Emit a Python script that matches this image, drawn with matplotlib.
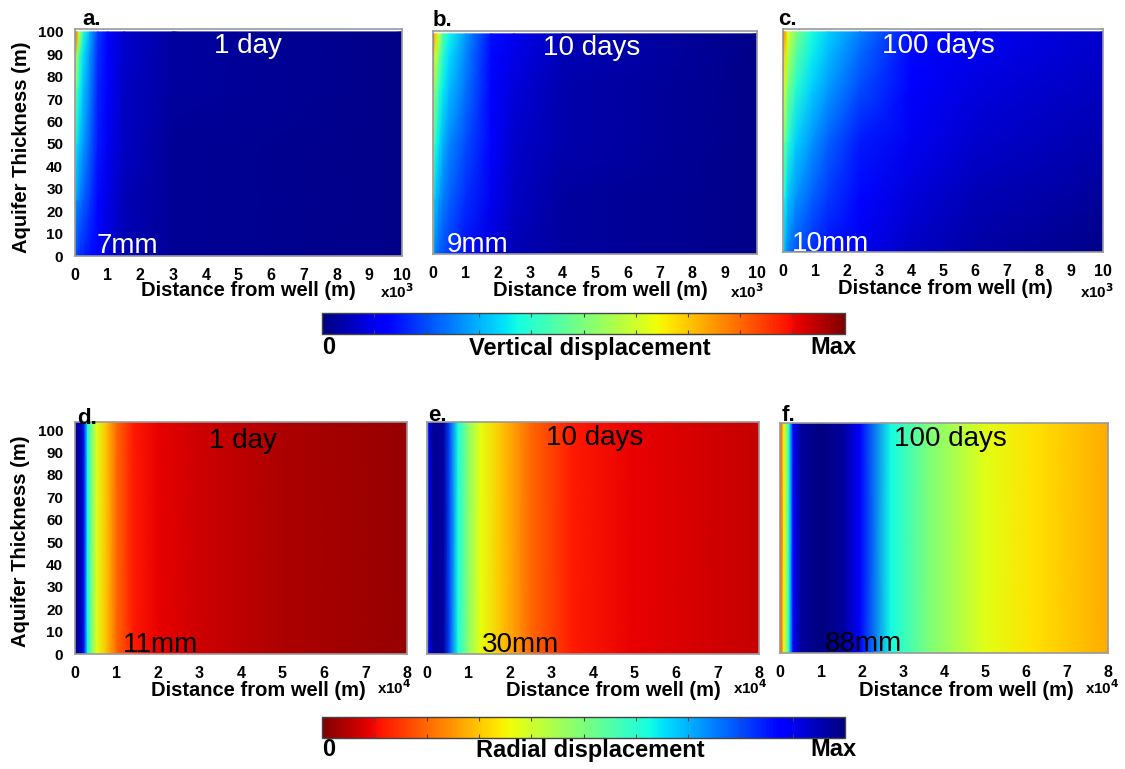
import numpy as np
import matplotlib
matplotlib.use("Agg")
import matplotlib.pyplot as plt
from matplotlib.cm import ScalarMappable
from matplotlib.colors import Normalize

plt.rcParams['font.family'] = ['Liberation Sans', 'DejaVu Sans']

W, H = 1125, 769

# ---------------- data (normalised displacement, 0..1) ----------------
# Vertical displacement panels (rows = depth nodes 0..100 m, cols = distance nodes)
a_x = [0, 60, 120, 250, 450, 700, 1000, 1500, 3000, 10000]
a_y = [0, 25, 50, 75, 90, 100]
a_v = [[0.20, 0.18, 0.17, 0.16, 0.14, 0.11, 0.08, 0.05, 0.02, 0.01],
       [0.30, 0.27, 0.25, 0.22, 0.18, 0.13, 0.09, 0.05, 0.02, 0.01],
       [0.40, 0.35, 0.32, 0.28, 0.22, 0.15, 0.10, 0.06, 0.02, 0.01],
       [0.55, 0.45, 0.38, 0.32, 0.25, 0.16, 0.11, 0.06, 0.03, 0.01],
       [0.72, 0.55, 0.45, 0.35, 0.27, 0.17, 0.12, 0.07, 0.03, 0.01],
       [0.92, 0.75, 0.60, 0.40, 0.30, 0.18, 0.13, 0.07, 0.03, 0.01]]

b_x = [0, 60, 180, 300, 500, 1000, 1800, 2500, 4000, 10000]
b_y = [0, 25, 50, 75, 90, 100]
b_v = [[0.45, 0.25, 0.22, 0.20, 0.18, 0.14, 0.08, 0.05, 0.03, 0.01],
       [0.55, 0.32, 0.28, 0.25, 0.22, 0.17, 0.10, 0.06, 0.03, 0.01],
       [0.62, 0.40, 0.35, 0.30, 0.26, 0.20, 0.11, 0.07, 0.04, 0.01],
       [0.72, 0.50, 0.42, 0.36, 0.31, 0.24, 0.12, 0.08, 0.04, 0.01],
       [0.82, 0.60, 0.50, 0.40, 0.34, 0.26, 0.13, 0.09, 0.05, 0.01],
       [0.92, 0.70, 0.60, 0.45, 0.37, 0.28, 0.14, 0.10, 0.05, 0.01]]

c_x = [0, 50, 150, 400, 900, 1400, 2400, 4000, 6000, 10000]
c_y = [0, 25, 50, 75, 90, 100]
c_v = [[0.38, 0.30, 0.25, 0.21, 0.17, 0.14, 0.10, 0.06, 0.035, 0.01],
       [0.48, 0.38, 0.32, 0.27, 0.22, 0.18, 0.13, 0.08, 0.05, 0.025],
       [0.62, 0.48, 0.40, 0.33, 0.27, 0.22, 0.15, 0.10, 0.07, 0.04],
       [0.75, 0.60, 0.50, 0.40, 0.33, 0.28, 0.20, 0.12, 0.085, 0.055],
       [0.85, 0.68, 0.57, 0.46, 0.36, 0.31, 0.23, 0.13, 0.095, 0.065],
       [0.92, 0.75, 0.62, 0.50, 0.38, 0.33, 0.25, 0.14, 0.10, 0.07]]

# Radial displacement panels (profiles along distance, uniform with depth)
d_x = [0, 150, 1500, 2200, 3000, 4000, 5300, 7500, 10000, 14000, 20000, 30000, 50000, 80000]
d_v = [0.80, 0.97, 0.96, 0.85, 0.63, 0.50, 0.38, 0.30, 0.20, 0.12, 0.09, 0.07, 0.04, 0.02]

e_x = [0, 500, 1500, 4000, 5500, 7500, 10000, 13000, 18000, 25000, 35000, 50000, 80000]
e_v = [0.50, 0.90, 0.98, 0.97, 0.80, 0.62, 0.48, 0.37, 0.30, 0.20, 0.12, 0.09, 0.06]

f_x = [0, 300, 900, 1500, 2200, 3200, 5000, 10000, 15500, 19500, 27000, 36000, 50000, 62000, 80000]
f_v = [0.12, 0.20, 0.34, 0.45, 0.62, 0.87, 0.97, 1.00, 0.97, 0.88, 0.625, 0.50, 0.375, 0.33, 0.27]

radial_y = [0, 104]

top_titles = ['1 day', '10 days', '100 days']
top_max = ['7mm', '9mm', '10mm']
bot_titles = ['1 day', '10 days', '100 days']
bot_max = ['11mm', '30mm', '88mm']
panel_letters = ['a.', 'b.', 'c.', 'd.', 'e.', 'f.']
yticks = list(range(0, 101, 10))
top_xticks = list(range(0, 11))
bot_xticks = list(range(0, 9))

# ---------------- layout helpers ----------------
def rect(l, t, r, b):
    return [l / W, 1 - b / H, (r - l) / W, (b - t) / H]

def fx(x):
    return x / W

def fy(y):
    return 1 - y / H

fig = plt.figure(figsize=(W / 100, H / 100), dpi=100)

top_rects = [rect(75, 29, 402, 256), rect(433, 31, 757, 254), rect(783, 29, 1103, 252)]
bot_rects = [rect(75, 422, 407, 654), rect(427, 422, 759, 654), rect(780, 423, 1108, 653)]

norm = Normalize(0, 1)
TICKFS = 11.5
spine_col = '#9a9a9a'
XLFS = 14.5

def style_axes(ax, show_y):
    ax.set_yticks(yticks)
    ax.tick_params(length=0, pad=8.5, labelsize=TICKFS)
    ax.tick_params(axis='y', labelsize=11)
    for lab in ax.get_xticklabels() + ax.get_yticklabels():
        lab.set_fontweight('bold')
    for s in ax.spines.values():
        s.set_color(spine_col)
        s.set_linewidth(1.2)
    if not show_y:
        ax.set_yticklabels([])

top_data = [(a_x, a_y, a_v), (b_x, b_y, b_v), (c_x, c_y, c_v)]
top_title_pos = [(0.53, 0.925), (0.49, 0.925), (0.485, 0.925)]
top_max_pos = [(0.067, 0.012), (0.043, 0.008), (0.028, 0.005)]
top_xlab = [(248, 291, 397, 292), (600, 290, 747, 292), (945, 289, 1097, 292)]
top_letter = [(82, 25), (433, 26), (778, 25)]

for i, (xs, ys, vs) in enumerate(top_data):
    ax = fig.add_axes(top_rects[i])
    X, Y = np.meshgrid(xs, ys)
    ax.pcolormesh(X, Y, np.array(vs), cmap='jet', norm=norm, shading='gouraud')
    ax.set_xlim(0, 10000)
    ax.set_ylim(0, 101.3)
    ax.set_xticks([t * 1000 for t in top_xticks])
    ax.set_xticklabels([str(t) for t in top_xticks])
    style_axes(ax, i == 0)
    ax.text(*top_title_pos[i], top_titles[i], transform=ax.transAxes, color='white',
            fontsize=20, ha='center', va='center')
    ax.text(*top_max_pos[i], top_max[i], transform=ax.transAxes, color='white',
            fontsize=20, ha='left', va='baseline')
    cx, cy, mx, my = top_xlab[i]
    fig.text(fx(cx), fy(cy), 'Distance from well (m)', fontsize=XLFS, fontweight='bold',
             ha='center', va='center')
    fig.text(fx(mx), fy(my), r'x10$^{\mathbf{3}}$', fontsize=11, fontweight='bold',
             ha='center', va='center')
    lx, ly = top_letter[i]
    fig.text(fx(lx), fy(ly), panel_letters[i], fontsize=16, fontweight='bold',
             ha='left', va='baseline')

bot_data = [(d_x, d_v), (e_x, e_v), (f_x, f_v)]
bot_title_pos = [(0.506, 0.92), (0.506, 0.93), (0.52, 0.93)]
bot_max_pos = [(0.145, 0.008), (0.166, 0.008), (0.137, 0.008)]
bot_xlab = [(258, 691, 394, 688), (613, 691, 750, 688), (966, 690, 1102, 688)]
bot_letter = [(77, 424), (428, 421), (782, 421)]

for i, (xs, vs) in enumerate(bot_data):
    ax = fig.add_axes(bot_rects[i])
    X, Y = np.meshgrid(xs, radial_y)
    C = np.vstack([vs for _ in radial_y])
    ax.pcolormesh(X, Y, C, cmap='jet_r', norm=norm, shading='gouraud')
    ax.set_xlim(0, 80000)
    ax.set_ylim(0, 103.6)
    ax.set_xticks([t * 10000 for t in bot_xticks])
    ax.set_xticklabels([str(t) for t in bot_xticks])
    style_axes(ax, i == 0)
    ax.text(*bot_title_pos[i], bot_titles[i], transform=ax.transAxes, color='black',
            fontsize=20, ha='center', va='center')
    ax.text(*bot_max_pos[i], bot_max[i], transform=ax.transAxes, color='black',
            fontsize=20, ha='left', va='baseline')
    cx, cy, mx, my = bot_xlab[i]
    fig.text(fx(cx), fy(cy), 'Distance from well (m)', fontsize=XLFS, fontweight='bold',
             ha='center', va='center')
    fig.text(fx(mx), fy(my), r'x10$^{\mathbf{4}}$', fontsize=11, fontweight='bold',
             ha='center', va='center')
    lx, ly = bot_letter[i]
    fig.text(fx(lx), fy(ly), panel_letters[3 + i], fontsize=16, fontweight='bold',
             ha='left', va='baseline')

# y-axis labels
fig.text(fx(22), fy(147), 'Aquifer Thickness (m)', fontsize=XLFS, fontweight='bold',
         rotation=90, ha='center', va='center')
fig.text(fx(21), fy(541), 'Aquifer Thickness (m)', fontsize=XLFS, fontweight='bold',
         rotation=90, ha='center', va='center')

# ---------------- colorbars ----------------
def make_cbar(rect_px, cmap, label, label_y):
    cax = fig.add_axes(rect(*rect_px))
    sm = ScalarMappable(norm=norm, cmap=cmap)
    cb = fig.colorbar(sm, cax=cax, orientation='horizontal')
    cb.set_ticks([k / 10 for k in range(1, 10)])
    cax.tick_params(which='both', direction='in', length=3, top=True, bottom=True,
                    labelbottom=False, color='#444444', width=0.8)
    cb.outline.set_edgecolor('#444444')
    cb.outline.set_linewidth(1.0)
    fig.text(fx(322), fy(label_y), '0', fontsize=17, fontweight='bold', ha='left', va='center')
    fig.text(fx(590), fy(label_y + 2), label, fontsize=17, fontweight='bold', ha='center', va='center')
    fig.text(fx(857), fy(label_y), 'Max', fontsize=17, fontweight='bold', ha='right', va='center')

make_cbar((322, 313, 845, 334), 'jet', 'Vertical displacement', 347)
make_cbar((322, 717, 845, 738), 'jet_r', 'Radial displacement', 749)

fig.savefig('out.png', dpi=100)
